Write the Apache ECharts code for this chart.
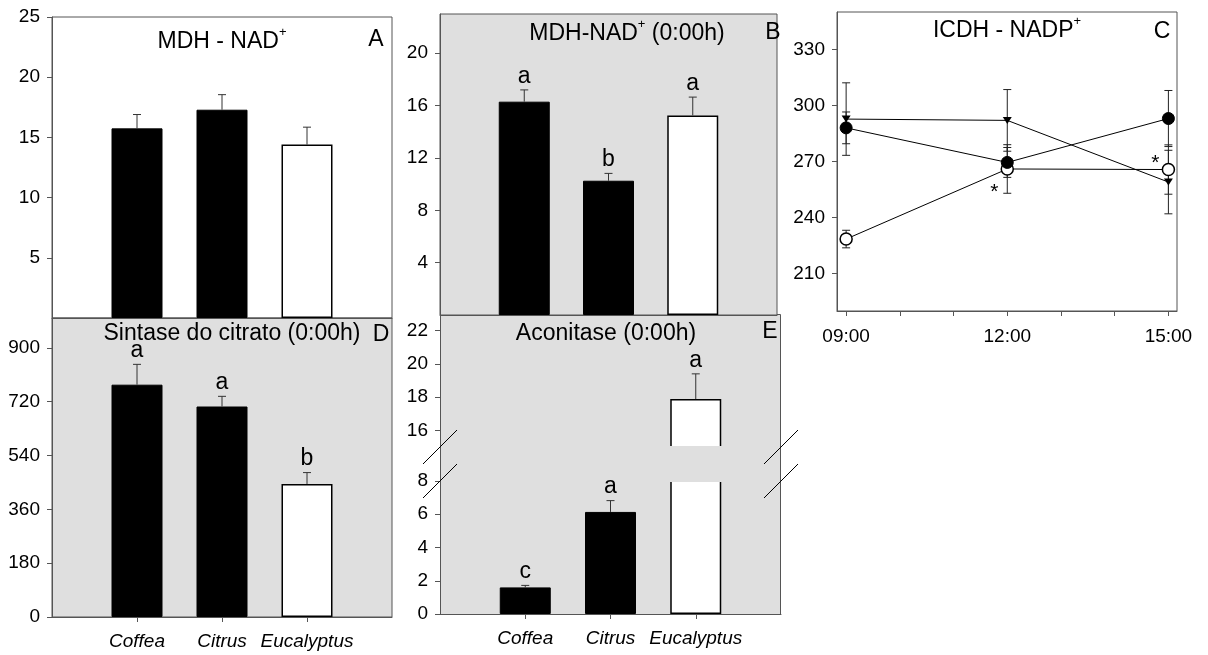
<!DOCTYPE html>
<html><head><meta charset="utf-8">
<script src="https://cdn.jsdelivr.net/npm/echarts@6/dist/echarts.min.js"></script>
<style>html,body{margin:0;padding:0;background:#fff}#c{width:1208px;height:655px}</style>
</head><body><div id="c"></div>
<script>
// ---------------- DATA ----------------
const species = ['Coffea', 'Citrus', 'Eucalyptus'];
// A: MDH - NAD+
const mdhA = [15.75, 17.3, 14.4];
const mdhAErr = [1.15, 1.25, 1.45];
// B: MDH-NAD+ (0:00h)
const mdhB = [16.3, 10.26, 15.25];
const mdhBErr = [0.9, 0.56, 1.4];
const mdhBLetters = ['a', 'b', 'a'];
// D: Sintase do citrato (0:00h)
const cs = [777, 704, 445];
const csErr = [68, 34, 38];
const csLetters = ['a', 'a', 'b'];
// E: Aconitase (0:00h)
const aco = [1.6, 6.14, 17.88];
const acoErr = [0.12, 0.68, 1.52];
const acoLetters = ['c', 'a', 'a'];
// C: ICDH - NADP+
const hours = [9, 12, 15];
const icdhFilled = [288, 269.5, 293];
const icdhFilledErr = [8.5, 8, 15];
const icdhOpen = [228.5, 266, 265.7];
const icdhOpenErr = [4.7, 13, 13.2];
const icdhOpenSig = [false, true, true];
const icdhTri = [292.7, 292, 259];
const icdhTriErr = [19.4, 16.5, 17];
// tick labels
const ticksA = [5, 10, 15, 20, 25];
const ticksB = [4, 8, 12, 16, 20];
const ticksC = [210, 240, 270, 300, 330];
const hourTicks = [9, 10, 11, 12, 13, 14, 15];
const hourLabels = [9, 12, 15];
const ticksD = [0, 180, 360, 540, 720, 900];
const ticksELow = [0, 2, 4, 6, 8];
const ticksEHigh = [16, 18, 20, 22];
// axis ranges
const rangeA = [0, 25], rangeB = [0, 23], rangeC = [190, 350], rangeD = [0, 1000];
const rangeEHigh = [15, 23], rangeELow = [0, 8];
const rangeHours = [8.83, 15.16];

// ---------------- STYLE / LAYOUT ----------------
const FONT = '"Liberation Sans", Arial, Helvetica, sans-serif';
const AXIS = '#555';
const GRAY = '#dfdfdf';
const TICK_FS = 19;
const L = {
  A:  {left: 52,  top: 17,  width: 340, height: 301},
  B:  {left: 440, top: 14,  width: 337, height: 301},
  C:  {left: 837, top: 12,  width: 340, height: 299},
  D:  {left: 52,  top: 318, width: 340, height: 299},
  EU: {left: 440, top: 314, width: 341, height: 133},
  EL: {left: 440, top: 481, width: 341, height: 133}
};

function grid(l, bg, show) {
  return Object.assign({}, l, {show: show, backgroundColor: bg, borderColor: AXIS, borderWidth: 1, containLabel: false});
}
function yAxis(gi, range, ticks) {
  return {
    type: 'value', gridIndex: gi, min: range[0], max: range[1],
    axisLine: {show: true, lineStyle: {color: AXIS, width: 1}},
    axisTick: {show: true, length: 5, customValues: ticks, lineStyle: {color: AXIS}},
    axisLabel: {customValues: ticks, color: '#000', fontSize: TICK_FS, fontFamily: FONT, margin: 12},
    splitLine: {show: false}
  };
}
function catAxis(gi, withLabels, show) {
  return {
    type: 'category', gridIndex: gi, data: ['', ...species, ''], boundaryGap: false, show: show,
    axisLine: {show: true, lineStyle: {color: AXIS}},
    axisTick: {show: withLabels, length: 5, interval: (i) => i >= 1 && i <= species.length, lineStyle: {color: AXIS}},
    axisLabel: {show: withLabels, interval: 0, fontStyle: 'italic', fontSize: TICK_FS, fontFamily: FONT, color: '#000', margin: 15},
    splitLine: {show: false}
  };
}
function barSeries(ai, vals) {
  return {
    type: 'bar', xAxisIndex: ai, yAxisIndex: ai, barWidth: 51, z: 2,
    data: ['-', ...vals.map((v, i) => ({
      value: v,
      itemStyle: i === 2 ? {color: '#fff', borderColor: '#000', borderWidth: 1.5}
                         : {color: '#000', borderColor: '#000', borderWidth: 1}
    })), '-']
  };
}
function errSeries(ai, vals, errs, letters, keep) {
  const data = [];
  vals.forEach((v, i) => { if (!keep || keep(v, errs[i])) data.push([i + 1, v, errs[i], i]); });
  return {
    type: 'custom', xAxisIndex: ai, yAxisIndex: ai, z: 70, clip: false, data: data,
    renderItem: (params, api) => {
      const x = api.value(0), v = api.value(1), e = api.value(2), idx = api.value(3);
      const p0 = api.coord([x, v]), p1 = api.coord([x, v + e]);
      const ch = [
        {type: 'line', shape: {x1: p0[0], y1: p0[1], x2: p1[0], y2: p1[1]}, style: {stroke: '#333', lineWidth: 1}},
        {type: 'line', shape: {x1: p1[0] - 4, y1: p1[1], x2: p1[0] + 4, y2: p1[1]}, style: {stroke: '#333', lineWidth: 1}}
      ];
      if (letters) ch.push({type: 'text', x: p1[0], y: p1[1] - 2,
        style: {text: letters[idx], font: '23px ' + FONT, fill: '#000', align: 'center', verticalAlign: 'bottom'}});
      return {type: 'group', children: ch};
    }
  };
}
function symErr(vals, errs) {
  return {
    type: 'custom', xAxisIndex: 2, yAxisIndex: 2, z: 1, clip: false,
    data: vals.map((v, i) => [hours[i], v, errs[i]]),
    renderItem: (params, api) => {
      const x = api.value(0), v = api.value(1), e = api.value(2);
      const lo = api.coord([x, v - e]), hi = api.coord([x, v + e]);
      const st = {stroke: '#222', lineWidth: 1};
      return {type: 'group', children: [
        {type: 'line', shape: {x1: lo[0], y1: lo[1], x2: hi[0], y2: hi[1]}, style: st},
        {type: 'line', shape: {x1: lo[0] - 4, y1: lo[1], x2: lo[0] + 4, y2: lo[1]}, style: st},
        {type: 'line', shape: {x1: hi[0] - 4, y1: hi[1], x2: hi[0] + 4, y2: hi[1]}, style: st}
      ]};
    }
  };
}
const hourFmt = (v) => (v < 10 ? '0' : '') + v + ':00';
const starOffset = {1: [-13, 23], 2: [-13, -6]};

const option = {
  animation: false,
  grid: [
    grid(L.A, '#fff', true), grid(L.B, GRAY, true), grid(L.C, '#fff', true),
    grid(L.D, GRAY, true), grid(L.EU, 'transparent', false), grid(L.EL, 'transparent', false)
  ],
  xAxis: [
    catAxis(0, false, true),
    catAxis(1, false, true),
    {
      type: 'value', gridIndex: 2, min: rangeHours[0], max: rangeHours[1],
      axisLine: {show: true, lineStyle: {color: AXIS}},
      axisTick: {show: true, length: 5, customValues: hourTicks, lineStyle: {color: AXIS}},
      axisLabel: {customValues: hourLabels, formatter: hourFmt, color: '#000', fontSize: TICK_FS, fontFamily: FONT, margin: 16},
      splitLine: {show: false}
    },
    catAxis(3, true, true),
    catAxis(4, false, false),
    catAxis(5, true, true)
  ],
  yAxis: [
    yAxis(0, rangeA, ticksA), yAxis(1, rangeB, ticksB), yAxis(2, rangeC, ticksC),
    yAxis(3, rangeD, ticksD), yAxis(4, rangeEHigh, ticksEHigh), yAxis(5, rangeELow, ticksELow)
  ],
  series: [
    barSeries(0, mdhA), errSeries(0, mdhA, mdhAErr, null),
    barSeries(1, mdhB), errSeries(1, mdhB, mdhBErr, mdhBLetters),
    barSeries(3, cs), errSeries(3, cs, csErr, csLetters),
    barSeries(4, aco), errSeries(4, aco, acoErr, acoLetters, (v) => v >= rangeEHigh[0]),
    barSeries(5, aco), errSeries(5, aco, acoErr, acoLetters, (v, e) => v + e <= rangeELow[1]),
    symErr(icdhOpen, icdhOpenErr), symErr(icdhTri, icdhTriErr), symErr(icdhFilled, icdhFilledErr),
    {
      type: 'line', xAxisIndex: 2, yAxisIndex: 2, z: 2,
      data: icdhOpen.map((v, i) => ({
        value: [hours[i], v],
        label: icdhOpenSig[i] ? {show: true, formatter: '*', position: 'inside', offset: starOffset[i],
          fontSize: 21, fontFamily: FONT, color: '#000'} : {show: false}
      })),
      symbol: 'circle', symbolSize: 12,
      itemStyle: {color: '#fff', borderColor: '#000', borderWidth: 1.5},
      lineStyle: {color: '#000', width: 1}
    },
    {
      type: 'line', xAxisIndex: 2, yAxisIndex: 2, z: 3,
      data: icdhTri.map((v, i) => [hours[i], v]),
      symbol: 'triangle', symbolRotate: 180, symbolSize: [9, 7],
      itemStyle: {color: '#000'}, lineStyle: {color: '#000', width: 1}
    },
    {
      type: 'line', xAxisIndex: 2, yAxisIndex: 2, z: 4,
      data: icdhFilled.map((v, i) => [hours[i], v]),
      symbol: 'circle', symbolSize: 12,
      itemStyle: {color: '#000', borderColor: '#000'}, lineStyle: {color: '#000', width: 1}
    }
  ]
};

// decorations for panel E (frame, axis break band, break marks) + titles
const eTop = L.EU.top, eBot = L.EL.top + L.EL.height, eL = L.EU.left, eR = L.EU.left + L.EU.width;
const gapTop = L.EU.top + L.EU.height, gapBot = L.EL.top;
function slash(cx, cy) {
  return {type: 'line', z: 60, shape: {x1: cx - 17, y1: cy + 17, x2: cx + 17, y2: cy - 17}, style: {stroke: '#000', lineWidth: 1}};
}
const supRich = {s: {font: '13px ' + FONT, padding: [0, 0, 20, 0]}};
function label(x, y, text) {
  return {type: 'text', z: 100, x: x, y: y,
    style: {text: text, font: '23px ' + FONT, fill: '#000', align: 'center', verticalAlign: 'middle', rich: supRich}};
}
option.graphic = {elements: [
  {type: 'rect', z: -1, shape: {x: eL + 0.5, y: eTop + 0.5, width: eR - eL - 1, height: eBot - eTop}, style: {fill: GRAY, stroke: AXIS, lineWidth: 1}},
  {type: 'rect', z: 50, shape: {x: eL + 1, y: gapTop - 1, width: eR - eL - 2, height: gapBot - gapTop + 2}, style: {fill: GRAY}},
  slash(eL, gapTop), slash(eL, gapBot), slash(eR, gapTop), slash(eR, gapBot),
  label(222, 42, 'MDH - NAD{s|+}'), label(376, 40, 'A'),
  label(627, 34, 'MDH-NAD{s|+} (0:00h)'), label(773, 33, 'B'),
  label(1007, 31, 'ICDH - NADP{s|+}'), label(1162, 32, 'C'),
  label(232, 334, 'Sintase do citrato (0:00h)'), label(381, 335, 'D'),
  label(606, 334, 'Aconitase (0:00h)'), label(770, 332, 'E')
]};

const chart = echarts.init(document.getElementById('c'), null, {renderer: 'canvas'});
chart.setOption(option);
</script>
</body></html>
